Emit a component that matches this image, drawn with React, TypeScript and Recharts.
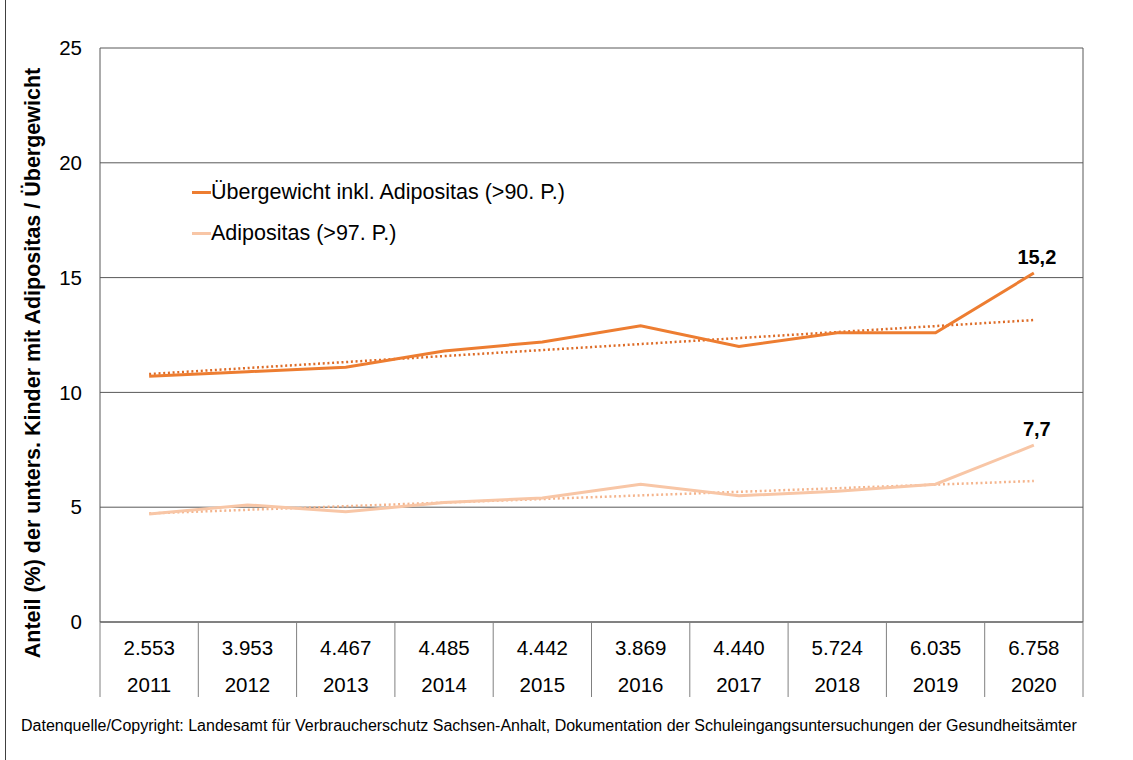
import {
  LineChart,
  Line,
  XAxis,
  YAxis,
  CartesianGrid,
  LabelList,
} from "recharts";

const YEARS = ["2011", "2012", "2013", "2014", "2015", "2016", "2017", "2018", "2019", "2020"];
const COUNTS = ["2.553", "3.953", "4.467", "4.485", "4.442", "3.869", "4.440", "5.724", "6.035", "6.758"];
const UEBERGEWICHT = [10.7, 10.9, 11.1, 11.8, 12.2, 12.9, 12.0, 12.6, 12.6, 15.2];
const ADIPOSITAS = [4.7, 5.1, 4.8, 5.2, 5.4, 6.0, 5.5, 5.7, 6.0, 7.7];
// trend lines, read at first and last year only
const TREND_UEBER = [10.8, null, null, null, null, null, null, null, null, 13.15];
const TREND_ADIP = [4.73, null, null, null, null, null, null, null, null, 6.14];
const Y_TICKS = [0, 5, 10, 15, 20, 25];

const SERIES = [
  { name: "Übergewicht inkl. Adipositas (>90. P.)", color: "#ED7D31" },
  { name: "Adipositas (>97. P.)", color: "#F8C6A6" },
];

const data = YEARS.map((year, i) => ({
  year,
  count: COUNTS[i],
  ueber: UEBERGEWICHT[i],
  adip: ADIPOSITAS[i],
  trendUeber: TREND_UEBER[i],
  trendAdip: TREND_ADIP[i],
}));

const FONT = '"Liberation Sans", Arial, sans-serif';
const GRID = "#595959";
const TABLE_LINE = "#808080";

function TableTick(props: any) {
  const { x, y, payload, index } = props;
  const half = payload && payload.offset ? payload.offset : 49.15;
  const idx = payload && payload.index != null ? payload.index : index;
  const last = idx === YEARS.length - 1;
  return (
    <g>
      <line x1={x - half} x2={x - half} y1={y} y2={y + 75} stroke={TABLE_LINE} strokeWidth={1} />
      {last && (
        <line x1={x + half} x2={x + half} y1={y} y2={y + 75} stroke={TABLE_LINE} strokeWidth={1} />
      )}
      <text x={x} y={y + 26} dy="0.35em" textAnchor="middle" fontSize={20.5} fill="#000" fontFamily={FONT}>
        {COUNTS[idx]}
      </text>
      <text x={x} y={y + 63} dy="0.35em" textAnchor="middle" fontSize={20.5} fill="#000" fontFamily={FONT}>
        {payload.value}
      </text>
    </g>
  );
}

function YTick(props: any) {
  const { x, y, payload } = props;
  return (
    <text x={x - 18} y={y} dy="0.35em" textAnchor="end" fontSize={20.5} fill="#000" fontFamily={FONT}>
      {payload.value}
    </text>
  );
}

function EndLabel(props: any) {
  const { x, y, value, index } = props;
  if (index !== YEARS.length - 1) return null;
  return (
    <text x={x + 3} y={y - 9} textAnchor="middle" fontSize={20} fontWeight="bold" fill="#000" fontFamily={FONT}>
      {String(value).replace(".", ",")}
    </text>
  );
}

function LegendBox() {
  return (
    <div
      style={{
        position: "absolute",
        left: 192,
        top: 172,
        fontFamily: FONT,
        fontSize: 21.5,
        color: "#000",
        whiteSpace: "nowrap",
      }}
    >
      {SERIES.map((s) => (
        <div key={s.name} style={{ display: "flex", alignItems: "center", height: 41 }}>
          <span style={{ display: "inline-block", width: 19, height: 3, background: s.color }} />
          <span>{s.name}</span>
        </div>
      ))}
    </div>
  );
}

export default function App() {
  return (
    <div style={{ position: "absolute", left: 0, top: 0, width: 1133, height: 760, background: "#fff" }}>
      <div style={{ position: "absolute", left: 5, top: 0, width: 1, height: 760, background: "#404040" }} />
      <LineChart
        width={1133}
        height={760}
        data={data}
        margin={{ top: 48, right: 49, bottom: 63, left: 0 }}
      >
        <CartesianGrid vertical={false} stroke={GRID} strokeWidth={1} />
        <XAxis
          dataKey="year"
          scale="band"
          height={75}
          tickSize={0}
          tickMargin={0}
          axisLine={{ stroke: GRID }}
          tickLine={false}
          tick={<TableTick />}
          interval={0}
        />
        <YAxis
          width={100}
          domain={[0, 25]}
          ticks={Y_TICKS}
          tickSize={0}
          tickMargin={0}
          tickLine={false}
          axisLine={{ stroke: GRID }}
          tick={<YTick />}
          label={{
            content: () => (
              <text
                x={40}
                y={363}
                transform="rotate(-90, 40, 363)"
                textAnchor="middle"
                fontSize={21.5}
                fontWeight="bold"
                fill="#000"
                fontFamily={FONT}
              >
                Anteil (%) der unters. Kinder mit Adipositas / Übergewicht
              </text>
            ),
          }}
        />
        <YAxis
          yAxisId="r"
          orientation="right"
          width={1}
          domain={[0, 25]}
          tick={false}
          tickLine={false}
          axisLine={{ stroke: GRID }}
        />
        <Line
          dataKey="trendUeber"
          stroke="#DD6B26"
          strokeWidth={2.5}
          strokeDasharray="2 2.7"
          dot={false}
          connectNulls
          isAnimationActive={false}
          legendType="none"
        />
        <Line
          dataKey="trendAdip"
          stroke="#F4B48C"
          strokeWidth={2.5}
          strokeDasharray="2 2.7"
          dot={false}
          connectNulls
          isAnimationActive={false}
          legendType="none"
        />
        <Line
          dataKey="ueber"
          stroke={SERIES[0].color}
          strokeWidth={3}
          dot={false}
          isAnimationActive={false}
        >
          <LabelList dataKey="ueber" content={<EndLabel />} />
        </Line>
        <Line
          dataKey="adip"
          stroke={SERIES[1].color}
          strokeWidth={3}
          dot={false}
          isAnimationActive={false}
        >
          <LabelList dataKey="adip" content={<EndLabel />} />
        </Line>
      </LineChart>
      <LegendBox />
      <div
        style={{
          position: "absolute",
          left: 21,
          top: 717,
          fontFamily: FONT,
          fontSize: 16,
          color: "#000",
          whiteSpace: "nowrap",
        }}
      >
        Datenquelle/Copyright: Landesamt für Verbraucherschutz Sachsen-Anhalt, Dokumentation der Schuleingangsuntersuchungen der Gesundheitsämter
      </div>
    </div>
  );
}
